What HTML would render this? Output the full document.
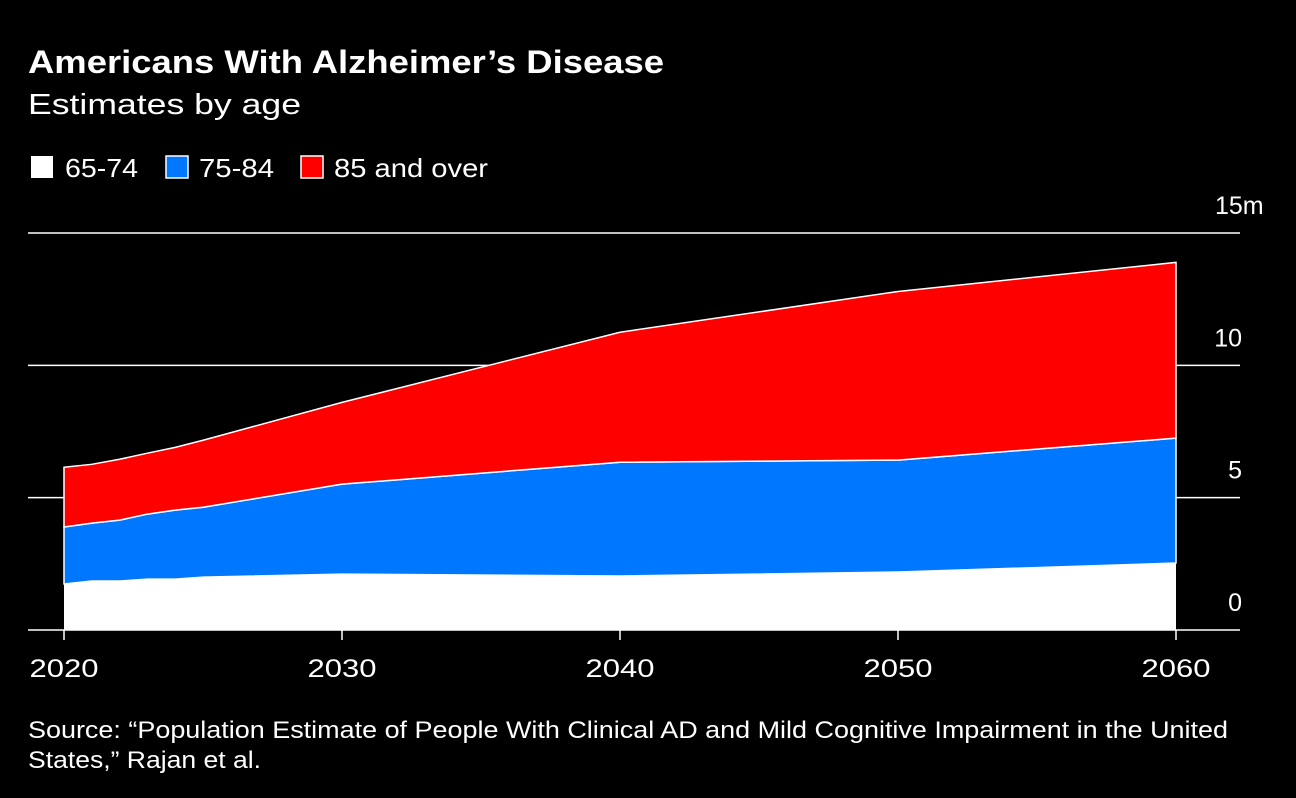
<!DOCTYPE html>
<html><head><meta charset="utf-8"><style>
body{margin:0;background:#000;width:1296px;height:798px;overflow:hidden;font-family:"Liberation Sans",sans-serif;color:#fff}
</style></head><body>
<svg width="1296" height="798" style="position:absolute;left:0;top:0">
<text x="28" y="73" font-size="32" font-weight="bold" fill="#fff" textLength="636" lengthAdjust="spacingAndGlyphs">Americans With Alzheimer’s Disease</text>
<text x="28" y="114" font-size="29" fill="#fff" textLength="273" lengthAdjust="spacingAndGlyphs">Estimates by age</text>
<g font-size="26" fill="#fff">
<g><rect x="31" y="156" width="22" height="22" fill="#fff"/><text x="65" y="177" textLength="73" lengthAdjust="spacingAndGlyphs">65-74</text></g>
<g><rect x="166" y="156" width="22" height="22" fill="#0077ff" stroke="#fff" stroke-width="1.5"/><text x="199" y="177" textLength="75" lengthAdjust="spacingAndGlyphs">75-84</text></g>
<g><rect x="301" y="156" width="22" height="22" fill="#ff0000" stroke="#fff" stroke-width="1.5"/><text x="334" y="177" textLength="154" lengthAdjust="spacingAndGlyphs">85 and over</text></g>
</g>
<g id="grid"></g><g id="areas"></g><g id="axes"></g>
<text x="28" y="738" font-size="24" fill="#fff" textLength="1200" lengthAdjust="spacingAndGlyphs">Source: “Population Estimate of People With Clinical AD and Mild Cognitive Impairment in the United</text>
<text x="28" y="768" font-size="24" fill="#fff" textLength="233" lengthAdjust="spacingAndGlyphs">States,” Rajan et al.</text>
</svg>
<script>
const years=[2020,2021,2022,2023,2024,2025,2030,2040,2050,2060];
const age65to74=[1.74,1.85,1.85,1.92,1.92,2.0,2.11,2.04,2.19,2.53];
const age75to84=[2.15,2.19,2.30,2.46,2.61,2.64,3.40,4.30,4.23,4.72];
const age85plus=[2.26,2.22,2.30,2.30,2.37,2.53,3.09,4.91,6.37,6.64];
const yTicks=[0,5,10,15];
const yTickLabels=["0","5","10","15m"];
const xTicks=[2020,2030,2040,2050,2060];
const NS="http://www.w3.org/2000/svg";
const X=v=>64+(v-2020)*(1176-64)/40;
const Y=v=>630-v*(630-233)/15;
function mk(t,a,p){const e=document.createElementNS(NS,t);for(const k in a)e.setAttribute(k,a[k]);p.appendChild(e);return e;}
const grid=document.getElementById('grid'),areas=document.getElementById('areas'),axes=document.getElementById('axes');
yTicks.forEach((t,i)=>{
 if(t>0){const l=mk('line',{x1:28,x2:1240,y1:Y(t),y2:Y(t),stroke:'#fff','stroke-width':1.5},grid);
 
 }
 const lab=yTickLabels[i];
 const attrs=lab.endsWith('m')?{x:1215,'text-anchor':'start'}:{x:1242,'text-anchor':'end'};
 attrs.y=Y(t)-19;attrs['font-size']=25;attrs.fill='#fff';
 const tx=mk('text',attrs,grid);
 tx.textContent=lab;
 
 
});
const series=[age65to74,age75to84,age85plus],colors=['#fff','#0077ff','#ff0000'],names=['area-65-74','area-75-84','area-85-and-over'];
let base=years.map(()=>0);
series.forEach((s,si)=>{
 const top=base.map((b,i)=>b+s[i]);
 let d=years.map((y,i)=>(i?'L':'M')+X(y)+','+Y(top[i])).join('');
 for(let i=years.length-1;i>=0;i--)d+='L'+X(years[i])+','+Y(base[i]);
 const p=mk('path',{d:d+'Z',fill:colors[si],stroke:'#fff','stroke-width':si?1.5:0},areas);
 
 
 base=top;
});
const bl=mk('line',{x1:28,x2:1240,y1:630,y2:630,stroke:'#fff','stroke-width':1.5},axes);


xTicks.forEach(t=>{
 const l=mk('line',{x1:X(t),x2:X(t),y1:630,y2:640,stroke:'#fff','stroke-width':1.5},axes);
 
 
 const tx=mk('text',{x:X(t)-34.5,y:677,'font-size':25,fill:'#fff',textLength:69,lengthAdjust:'spacingAndGlyphs'},axes);
 tx.textContent=t;
 
 
});
</script>
</body></html>
